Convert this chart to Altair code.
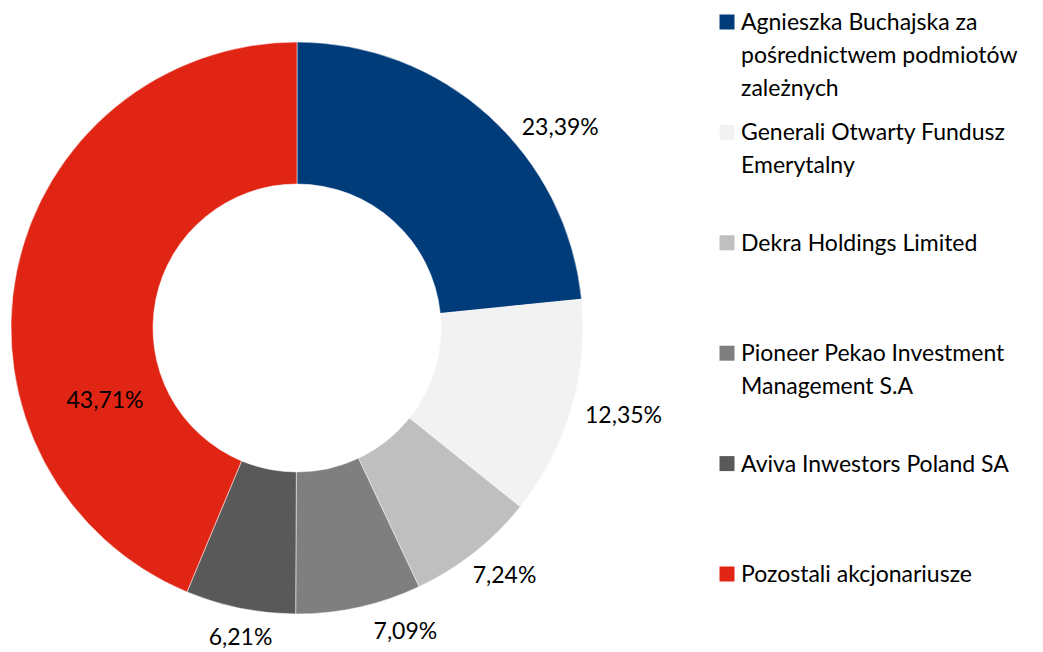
import altair as alt
import pandas as pd

names = [
    "Agnieszka Buchajska za pośrednictwem podmiotów zależnych",
    "Generali Otwarty Fundusz Emerytalny",
    "Dekra Holdings Limited",
    "Pioneer Pekao Investment Management S.A",
    "Aviva Inwestors Poland SA",
    "Pozostali akcjonariusze",
]
legend_text = [
    "Agnieszka Buchajska za\npośrednictwem podmiotów\nzależnych",
    "Generali Otwarty Fundusz\nEmerytalny",
    "Dekra Holdings Limited",
    "Pioneer Pekao Investment\nManagement S.A",
    "Aviva Inwestors Poland SA",
    "Pozostali akcjonariusze",
]
values = [23.39, 12.35, 7.24, 7.09, 6.21, 43.71]
colors = ["#003B7A", "#F2F2F2", "#BFBFBF", "#7F7F7F", "#595959", "#E02514"]

df = pd.DataFrame({
    "idx": list(range(len(names))),
    "name": names,
    "legend": legend_text,
    "value": values,
})
total = sum(values)

FONT = "Lato"
FS = 23
CX, CY = 289, 320

color = alt.Color("name:N", scale=alt.Scale(domain=names, range=colors), legend=None)

base = alt.Chart(df).transform_window(
    cum="sum(value)", sort=[alt.SortField("idx")], frame=[None, 0]
).transform_calculate(
    mid="datum.cum - datum.value / 2",
    label="replace(format(datum.value, '.2f'), '.', ',') + '%'",
)

arcs = base.mark_arc(outerRadius=286, innerRadius=144, stroke="#ffffff", strokeWidth=0.5).encode(
    theta=alt.Theta("value:Q", stack=True, scale=alt.Scale(domain=[0, total])),
    order=alt.Order("idx:Q"),
    color=color,
    x=alt.value(CX),
    y=alt.value(CY),
)

# label placement nudges (style only)
nudges = {
    0: (330, 42, 45),
    1: (330, 10, -5),
    2: (330, 3, -11),
    3: (330, 37, -18),
    4: (330, 9, -13),
    5: (206, 10, 113),
}
label_layers = []
for i, (r, dx, dy) in nudges.items():
    label_layers.append(
        base.transform_filter(f"datum.idx == {i}").mark_text(
            radius=r, dx=dx, dy=dy, font=FONT, fontSize=FS, color="#000000",
            align="center", baseline="middle",
        ).encode(
            theta=alt.Theta("mid:Q", scale=alt.Scale(domain=[0, total])),
            text="label:N",
            x=alt.value(CX),
            y=alt.value(CY),
        )
    )

ly = alt.Y("name:N", sort=names, axis=None,
           scale=alt.Scale(type="point", domain=names, range=[14, 566], padding=0))

leg_sq = alt.Chart(df).mark_square(size=225, opacity=1, filled=True).encode(
    x=alt.value(719),
    y=ly,
    color=color,
)
leg_txt = alt.Chart(df).mark_text(
    align="left", baseline="alphabetic", dy=8, font=FONT, fontSize=FS,
    lineBreak="\n", lineHeight=33, color="#000000",
).encode(
    x=alt.value(733),
    y=ly,
    text="legend:N",
)

chart = alt.layer(arcs, *label_layers, leg_sq, leg_txt).properties(
    width=1027, height=644, padding=0,
    autosize=alt.AutoSizeParams(type="none"),
).configure_view(stroke=None)

chart.save("out.html", embed_options={"renderer": "svg", "actions": False})
